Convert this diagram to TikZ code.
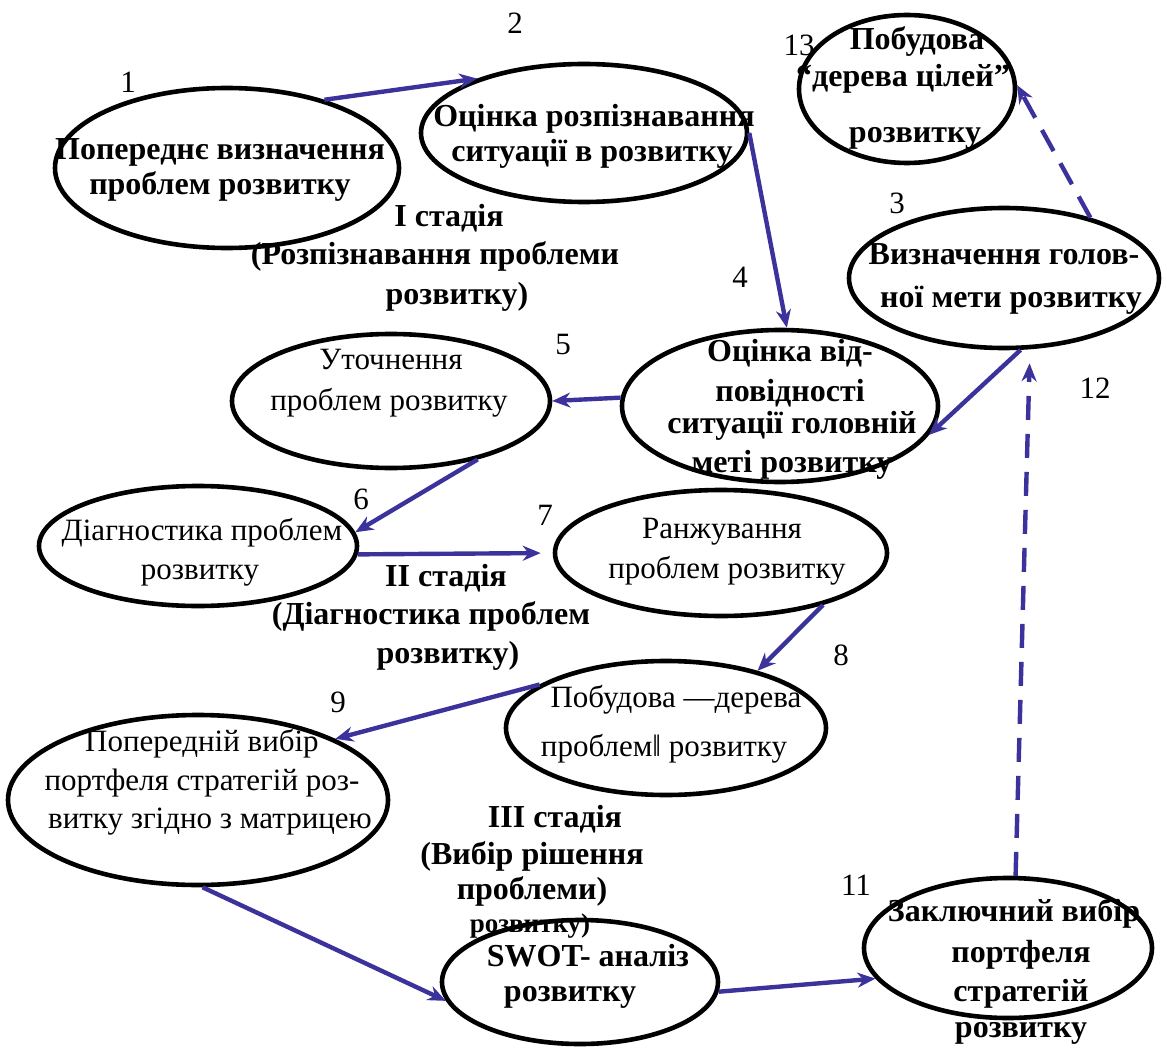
\documentclass[tikz,border=0pt]{standalone}
\usepackage{fontspec}
\setmainfont{Liberation Serif}
\usetikzlibrary{arrows.meta,shapes.geometric}
\definecolor{arrowblue}{RGB}{60,50,155}
\begin{document}
\begin{tikzpicture}[x=0.5pt,y=-0.5pt,
  ellnode/.style n args={2}{draw=black, ellipse, line width=2.3pt, minimum width=#1pt, minimum height=#2pt, inner sep=0pt},
  bt/.style={font=\fontsize{16}{18}\selectfont\bfseries, anchor=mid, inner sep=0pt},
  rt/.style={font=\fontsize{15.5}{18}\selectfont, anchor=mid, inner sep=0pt},
  num/.style={font=\fontsize{15.5}{18}\selectfont, anchor=center, inner sep=0pt},
  arr/.style={draw=arrowblue, line width=2.2pt, -{Stealth[length=9pt,width=7.5pt]}},
  darr/.style={arr, dash pattern=on 12pt off 7pt}]
\useasboundingbox (0,0) rectangle (1167,1048);
% ellipses (rx, ry in px)
\node[ellnode={172}{80}] (e1) at (227,168) {};
\node[ellnode={163}{69}] (e2) at (584,133) {};
\node[ellnode={108}{74}] (e13) at (907,89) {};
\node[ellnode={155}{70}] (e3) at (1004,278) {};
\node[ellnode={158}{76}] (e4) at (780,406) {};
\node[ellnode={159}{67}] (e5) at (391,401) {};
\node[ellnode={159}{60}] (e6) at (198,546) {};
\node[ellnode={166}{63}] (e7) at (721,553) {};
\node[ellnode={160}{67}] (e8) at (666,728) {};
\node[ellnode={190}{85}] (e9) at (198,800) {};
\node[ellnode={138}{62}] (e10) at (580,982) {};
\node[ellnode={144}{70}] (e11) at (1008,948) {};
% texts
\node[bt] (t1a) at (220,155) {Попереднє визначення};
\node[bt] (t1b) at (220,190) {проблем розвитку};
\node[bt] (t2a) at (594,122) {Оцінка розпізнавання};
\node[bt] (t2b) at (592,157) {ситуації в розвитку};
\node[bt] (t13a) at (917,45) {Побудова};
\node[bt] (t13b) at (903,82) {“дерева цілей”};
\node[bt] (t13c) at (915,138) {розвитку};
\node[bt] (t3a) at (1004,260) {Визначення голов-};
\node[bt] (t3b) at (1011,303) {ної мети розвитку};
\node[bt] (s1a) at (449,222) {I стадія};
\node[bt] (s1b) at (435,260) {(Розпізнавання проблеми};
\node[bt] (s1c) at (457,300) {розвитку)};
\node[bt] (t4a) at (790,357) {Оцінка від-};
\node[bt] (t4b) at (790,397) {повідності};
\node[bt] (t4c) at (792,429) {ситуації головній};
\node[bt] (t4d) at (792,468) {меті розвитку};
\node[rt] (t5a) at (391,365) {Уточнення};
\node[rt] (t5b) at (389,406) {проблем розвитку};
\node[rt] (t6a) at (202,536) {Діагностика проблем};
\node[rt] (t6b) at (200,575) {розвитку};
\node[rt] (t7a) at (722,534) {Ранжування};
\node[rt] (t7b) at (727,574) {проблем розвитку};
\node[bt] (s2a) at (446,582) {II стадія};
\node[bt] (s2b) at (431,620) {(Діагностика проблем};
\node[bt] (s2c) at (448,659) {розвитку)};
\node[rt] (t8a) at (676,703) {Побудова ―дерева};
\node[rt] (t8b) at (664,752) {проблем‖ розвитку};
\node[rt] (t9a) at (202,747) {Попередній вибір};
\node[rt] (t9b) at (202,786) {портфеля стратегій роз-};
\node[rt] (t9c) at (210,824) {витку згідно з матрицею};
\node[bt] (s3a) at (555,823) {III стадія};
\node[bt] (s3b) at (532,860) {(Вибір рішення};
\node[bt] (s3c) at (532,895) {проблеми)};
\node[bt, font=\fontsize{13.5}{16}\selectfont\bfseries] (s3d) at (530,928) {розвитку)};
\node[bt] (t10a) at (588,962) {SWOT- аналіз};
\node[bt] (t10b) at (570,997) {розвитку};
\node[bt] (t11a) at (1014,917) {Заключний вибір};
\node[bt] (t11b) at (1021,958) {портфеля};
\node[bt] (t11c) at (1021,997) {стратегій};
\node[bt] (t11d) at (1021,1033) {розвитку};
% numbers
\node[num] (n1) at (128,82) {1};
\node[num] (n2) at (515,23) {2};
\node[num] (n13) at (799,45) {13};
\node[num] (n3) at (897,203) {3};
\node[num] (n4) at (740,277) {4};
\node[num] (n5) at (563,345) {5};
\node[num] (n12) at (1095,388) {12};
\node[num] (n6) at (361,499) {6};
\node[num] (n7) at (545,515) {7};
\node[num] (n8) at (841,655) {8};
\node[num] (n9) at (338,702) {9};
\node[num] (n11) at (856,885) {11};
% connectors
\draw[arr] (e1.35) -- (e2.153);
\draw[arr] (e2.0) -- (e4.85);
\draw[arr] (e3.-77) -- (e4.-11);
\draw[arr] (e4.177) -- (e5.0);
\draw[arr] (e5.-34) -- (e6.5);
\draw[arr, shorten >=6pt] (e6.-3) -- (e7.180);
\draw[arr] (e7.-27) -- (e8.32);
\draw[arr] (e8.161) -- (e9.24);
\draw[arr] (e9.-87) -- (e10.188);
\draw[arr] (e10.-4) -- (e11.193);
\draw[darr, shorten >=7pt] (e11.84) -- (e3.-70);
\draw[darr] (e3.35) -- (e13.2);
\end{tikzpicture}
\end{document}
